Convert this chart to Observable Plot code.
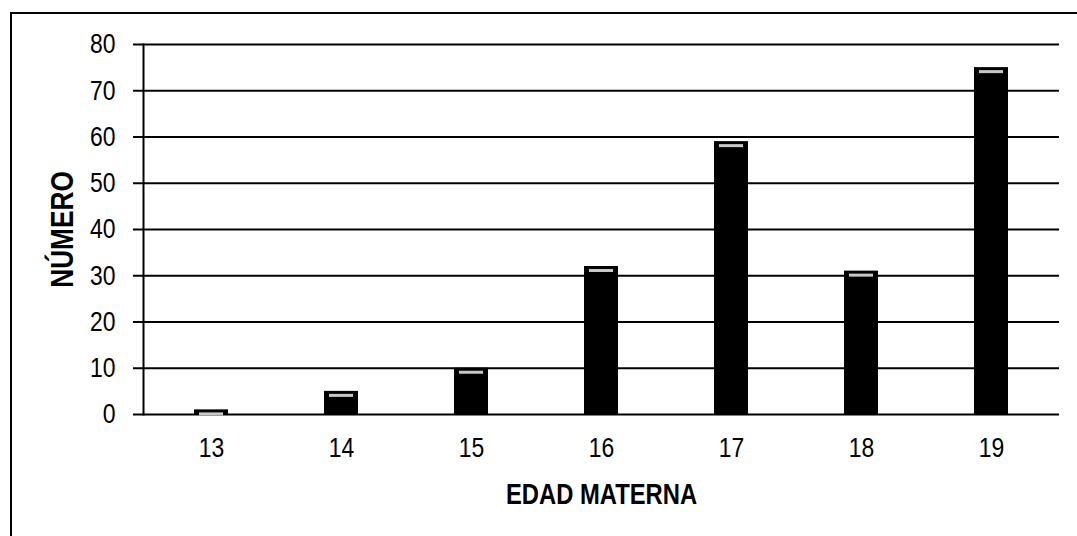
<!DOCTYPE html>
<html>
<head>
<meta charset="utf-8">
<script src="https://cdn.jsdelivr.net/npm/d3@7"></script>
<script src="https://cdn.jsdelivr.net/npm/@observablehq/plot@0.6"></script>
<style>
  html, body { margin: 0; padding: 0; background: #fff; overflow: hidden; }
  #wrap { position: relative; width: 1077px; height: 536px; }
  #border { position: absolute; left: 10px; top: 12px; width: 1080px; height: 540px;
            border: 2px solid #000; box-sizing: border-box; pointer-events: none; }
  #chart { position: absolute; left: 0; top: 0; }
</style>
</head>
<body>
<div id="wrap">
  <div id="chart"></div>
  <div id="border"></div>
</div>
<script>
const ages = ["13", "14", "15", "16", "17", "18", "19"];
const counts = [1, 5, 10, 32, 59, 31, 75];
const yTicks = [0, 10, 20, 30, 40, 50, 60, 70, 80];
const xTitle = "EDAD MATERNA";
const yTitle = "NÚMERO";

const data = ages.map((a, i) => ({age: a, count: counts[i]}));
const FONT = "'Liberation Sans', Arial, sans-serif";

const chart = Plot.plot({
  width: 1077,
  height: 536,
  marginLeft: 143,
  marginRight: 18,
  marginTop: 44,
  marginBottom: 122,
  style: {fontFamily: FONT, fontSize: "28px", color: "#000", background: "transparent"},
  x: {domain: ages, paddingInner: 0.74, paddingOuter: 0.37},
  y: {domain: [0, 80]},
  marks: [
    Plot.gridY(yTicks, {stroke: "#000", strokeOpacity: 1, strokeWidth: 2}),
    Plot.axisY(yTicks, {tickSize: 10, tickPadding: 18, fontSize: 28, stroke: "#000", strokeWidth: 2, label: null}),
    Plot.frame({anchor: "left", stroke: "#000", strokeWidth: 2}),
    Plot.barY(data, {x: "age", y: "count", fill: "#000"}),
    Plot.tickY(data, {x: "age", y: "count", stroke: "#c8c8c8", strokeWidth: 3, dy: 4, inset: 5}),
    Plot.axisX(ages, {tickSize: 0, tickPadding: 23, fontSize: 28, label: null}),
    Plot.text([xTitle], {frameAnchor: "bottom", dy: 89, textAnchor: "middle", fontSize: 29, fontWeight: "bold", fontFamily: FONT}),
    Plot.text([yTitle], {frameAnchor: "left", dx: -81, dy: 0, rotate: -90, textAnchor: "middle", fontSize: 32, fontWeight: "bold", fontFamily: FONT})
  ]
});
document.getElementById("chart").appendChild(chart);

// condense glyphs to mimic the narrow typeface of the reference, keeping each text's anchor
chart.querySelectorAll("text").forEach(t => {
  const len = t.getComputedTextLength();
  if (!(len > 0)) return;
  const b0 = t.getBBox();
  const anchor = getComputedStyle(t).textAnchor;
  t.setAttribute("textLength", (len * 0.82).toFixed(1));
  t.setAttribute("lengthAdjust", "spacingAndGlyphs");
  const b1 = t.getBBox();
  let shift = 0;
  if (anchor === "middle") shift = (b0.x + b0.width / 2) - (b1.x + b1.width / 2);
  else if (anchor === "end") shift = (b0.x + b0.width) - (b1.x + b1.width);
  else shift = b0.x - b1.x;
  if (Math.abs(shift) > 0.1) {
    const prev = parseFloat(t.getAttribute("dx")) || 0;
    t.setAttribute("dx", (prev + shift).toFixed(1));
  }
});
</script>
</body>
</html>
